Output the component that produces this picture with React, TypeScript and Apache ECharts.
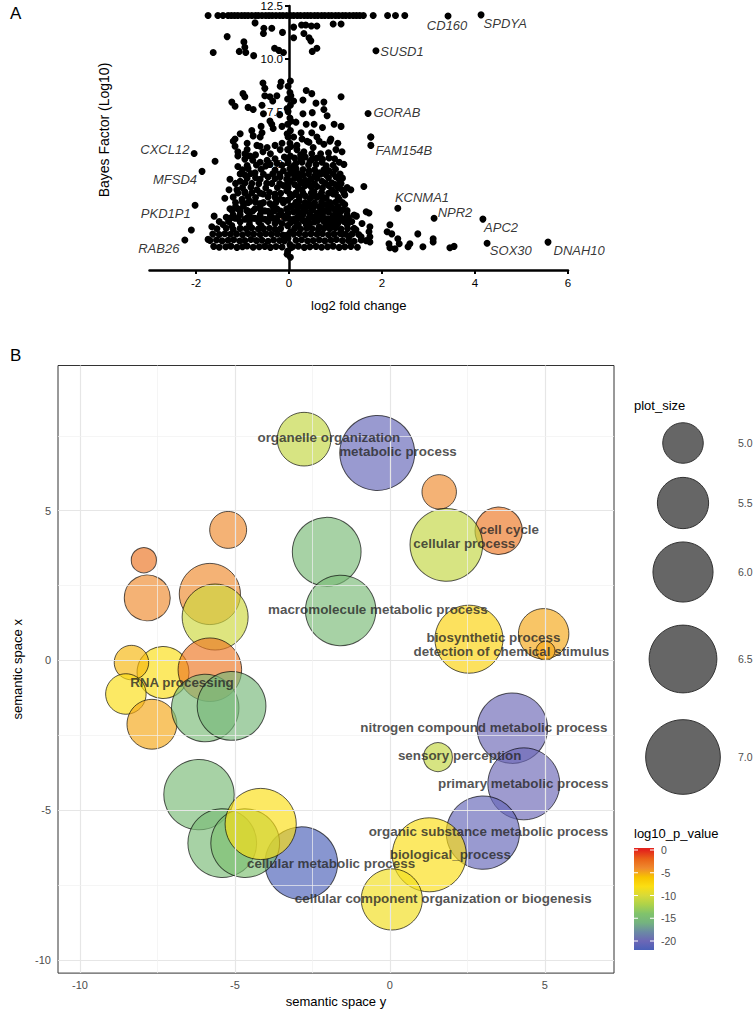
import React, { useEffect, useRef } from 'react';
import * as echarts from 'echarts';

// ================= Panel A : volcano-like plot =================
const CAP_BF = 12.05;
const capFold = [-1.74, -1.53, -1.42, -1.31, -1.24, -1.17, -1.1, -1.02, -0.95, -0.88, -0.8, -0.72, -0.66, -0.58, -0.5, -0.43, -0.36, -0.28, -0.2, -0.13, -0.05, 0.03, 0.1, 0.18, 0.25, 0.33, 0.4, 0.47, 0.55, 0.62, 0.7, 0.77, 0.85, 0.92, 1.0, 1.07, 1.15, 1.22, 1.3, 1.38, 1.45, 1.52, 1.6, 1.81, 2.12, 2.29, 2.49];

const upperGenes: number[][] = [
  [0.1, 11.5], [0.27, 11.6], [0.36, 11.6], [0.48, 11.55], [0.6, 11.55], [0.1, 11.0], [0.32, 11.2], [0.43, 11.0], [0.47, 10.85], [0.6, 10.5], [0.5, 10.35], [0.95, 11.65], [1.12, 11.65],
  [-0.73, 11.7], [-0.54, 11.45], [-0.37, 11.45], [-0.55, 11.2], [-0.14, 11.25], [-1.33, 11.05], [-0.97, 10.8], [-0.95, 10.55], [-1.07, 10.35], [-0.93, 10.3], [-1.63, 10.3], [-0.76, 10.15], [-0.31, 10.5], [-0.22, 10.4], [-0.12, 10.3],
];

const middleGenes: number[][] = [
  [-0.17, 8.9], [-0.56, 8.85], [-0.52, 8.6], [-0.19, 8.7], [-0.99, 8.35], [-0.95, 8.2], [-0.52, 8.25], [-0.41, 8.2], [-0.26, 8.25], [-1.23, 7.95], [-1.16, 7.75], [-0.88, 7.7], [-0.77, 7.6], [-0.58, 7.8], [-0.41, 7.05], [-0.37, 6.9], [-0.34, 6.7], [-1.05, 6.45], [-0.8, 6.6], [-0.77, 6.35], [-0.58, 6.5], [-1.16, 6.2], [-1.2, 6.1], [-0.9, 6.0], [-0.69, 5.9], [-0.47, 5.8], [-0.3, 5.9], [-0.62, 6.3], [-1.16, 5.86], [-1.1, 5.6], [-0.9, 5.7], [-1.1, 5.4], [-0.84, 5.4], [-0.62, 5.86], [-0.56, 5.6], [-0.19, 5.7],
  [0.37, 8.5], [0.49, 8.35], [0.1, 8.0], [0.58, 7.9], [0.75, 7.95], [0.75, 7.6], [0.82, 7.3], [1.12, 8.2], [0.15, 7.0], [0.37, 6.9], [0.54, 6.9], [0.97, 6.9], [1.12, 6.8], [0.26, 6.5], [0.49, 6.5], [0.28, 6.2], [0.6, 6.3], [0.39, 6.1], [0.17, 5.9], [0.52, 5.8], [0.88, 6.1], [1.05, 6.0], [1.76, 6.3], [0.43, 6.05], [0.65, 6.1], [0.9, 6.2], [0.17, 5.7], [0.32, 5.6], [0.49, 5.5], [1.01, 5.7], [1.14, 5.6],
  [-0.15, 6.0], [0.1, 6.3], [0.75, 5.95], [-0.6, 6.8], [-0.15, 6.8], [0.72, 6.75], [-0.55, 7.4], [-0.2, 7.35], [0.3, 7.4], [0.5, 7.45], [-0.35, 8.0], [0.3, 8.05], [-0.95, 5.5], [-0.72, 5.45], [-0.4, 5.5], [0.25, 5.45], [0.68, 5.5], [0.85, 5.55],
];

const lowerGenes: number[][] = [
  [-1.59, 5.15], [-1.27, 4.3], [-1.29, 3.8], [-1.38, 3.4], [-1.27, 2.9], [-1.61, 2.55], [-1.66, 2.05], [-1.74, 1.45], [-2.1, 1.89],
  [-0.47, 5.2], [-0.41, 5.0], [-0.26, 5.05], [-1.1, 4.9], [-0.88, 4.8], [-0.95, 4.5], [-0.73, 4.6], [-0.62, 4.3], [-0.45, 4.4], [-1.05, 4.2], [-0.8, 4.1], [-0.37, 4.1], [-0.19, 4.4], [-1.12, 3.8], [-0.95, 3.7], [-0.69, 3.8], [-0.56, 3.6], [-0.3, 3.6], [-1.01, 3.35], [-0.84, 3.25], [-0.62, 3.15], [-0.41, 3.15], [-0.19, 3.35], [-1.1, 2.9], [-0.9, 2.8], [-0.73, 2.9], [-0.52, 2.8], [-0.26, 2.9], [-1.16, 2.45], [-0.95, 2.4], [-0.73, 2.45], [-0.52, 2.4], [-0.34, 2.45], [-1.42, 2.15], [-1.23, 2.1], [-0.85, 2.15], [-0.6, 2.1],
  [0.28, 5.1], [0.58, 5.0], [0.71, 5.1], [0.86, 5.3], [1.08, 5.1], [1.18, 5.0], [0.15, 4.8], [0.43, 4.7], [0.65, 4.6], [0.86, 4.7], [1.01, 4.4], [1.08, 4.3], [0.71, 4.2], [0.47, 4.3], [0.22, 4.3], [1.61, 3.95], [1.33, 3.8], [1.14, 3.8], [0.92, 3.8], [0.28, 3.8], [0.54, 3.7], [0.8, 3.4], [1.08, 3.35], [0.22, 3.25], [0.43, 3.15], [0.65, 3.0], [0.97, 2.9], [1.14, 2.85], [1.66, 2.76], [1.72, 2.7], [1.08, 2.62], [0.22, 2.62], [0.49, 2.52], [0.8, 2.43], [0.92, 2.38], [1.35, 2.3], [1.57, 2.2], [1.25, 2.15], [0.37, 2.15], [0.65, 2.05],
];

const coreGenes: number[][] = [
  [0.1, 4.55], [0.3, 4.5], [0.55, 4.45], [0.8, 4.5], [0.12, 4.05], [0.35, 4.0], [0.6, 3.95], [0.85, 4.0], [1.0, 4.05], [0.1, 3.55], [0.35, 3.5], [0.6, 3.45], [0.95, 3.6], [1.2, 3.55], [0.1, 3.05], [0.3, 3.0], [0.52, 2.95], [0.8, 3.1], [1.2, 3.1], [0.1, 2.75], [0.35, 2.8], [0.6, 2.7], [0.85, 2.75], [0.1, 2.4], [0.3, 2.35], [0.62, 2.35], [1.1, 2.4], [1.45, 2.55],
  [-0.12, 4.7], [-0.12, 4.0], [-0.12, 3.3], [-0.15, 2.6], [-0.15, 2.2], [-0.3, 2.2], [0.12, 5.3], [0.35, 5.35], [0.6, 5.3], [-0.1, 5.35],
  [0.2, 2.15], [0.45, 2.2], [0.82, 2.15], [0.95, 2.1], [1.05, 2.2], [-0.08, 2.45], [0.18, 2.5], [0.6, 2.55], [0.72, 2.6], [0.85, 2.85], [0.45, 3.4], [0.65, 3.5], [0.35, 4.25], [0.75, 4.75],
  [-1.3, 2.3], [-1.05, 2.28], [-0.85, 2.32], [-0.65, 2.27], [-0.45, 2.3], [-0.25, 2.33], [0.15, 2.28], [0.38, 2.31], [0.55, 2.27], [0.75, 2.3], [0.88, 2.33], [1.0, 2.28], [1.18, 2.3], [1.3, 2.27],
  [-1.2, 2.6], [-1.05, 2.62], [-0.85, 2.58], [-0.62, 2.61], [-0.4, 2.63], [-0.22, 2.59], [0.3, 2.62], [0.45, 2.6], [0.95, 2.58], [1.25, 2.61], [1.4, 2.6],
  [-1.15, 3.0], [-0.98, 3.02], [-0.62, 2.98], [-0.35, 3.01], [0.2, 3.0], [0.42, 3.03], [0.7, 2.98], [0.9, 3.02], [1.05, 3.0],
  [-1.2, 3.45], [-0.88, 3.47], [-0.72, 3.43], [-0.45, 3.46], [-0.3, 3.44], [0.22, 3.45], [0.5, 3.48], [0.75, 3.43], [1.05, 3.46],
  [-1.0, 3.9], [-0.82, 3.92], [-0.5, 3.88], [-0.25, 3.91], [0.2, 3.9], [0.48, 3.93], [0.72, 3.88], [1.05, 3.91], [1.25, 3.9],
  [-0.9, 4.35], [-0.72, 4.37], [-0.3, 4.33], [0.12, 4.36], [0.6, 4.34], [0.85, 4.37], [1.15, 4.35],
  [-1.0, 4.75], [-0.6, 4.77], [-0.3, 4.73], [0.3, 4.76], [0.55, 4.74], [1.0, 4.77],
  [-1.5, 2.3], [-1.35, 2.5], [-0.05, 2.9], [-0.05, 3.75], [-0.05, 4.3], [0.15, 5.05], [0.45, 5.15], [-0.62, 5.1], [-0.78, 5.2],
];

const fillGenes: number[][] = [
  [-1.25, 2.46], [-1.1, 2.44], [-0.9, 2.47], [-0.75, 2.45], [-0.6, 2.43], [-0.42, 2.46], [-0.28, 2.44], [0.22, 2.46], [0.42, 2.44], [0.52, 2.47], [0.7, 2.45], [0.85, 2.43], [1.0, 2.46], [1.15, 2.44], [1.28, 2.47],
  [-1.22, 2.8], [-1.05, 2.78], [-0.9, 2.81], [-0.78, 2.79], [-0.6, 2.82], [-0.45, 2.78], [-0.32, 2.8], [-0.18, 2.79], [0.18, 2.81], [0.3, 2.78], [0.48, 2.8], [0.68, 2.82], [0.78, 2.79], [1.0, 2.8], [1.12, 2.78], [1.25, 2.81],
  [-1.15, 3.2], [-1.0, 3.22], [-0.88, 3.18], [-0.72, 3.21], [-0.55, 3.19], [-0.28, 3.2], [-0.12, 3.18], [0.15, 3.21], [0.35, 3.2], [0.55, 3.18], [0.7, 3.22], [0.88, 3.19], [1.0, 3.21], [1.15, 3.2],
  [-1.1, 3.65], [-0.95, 3.63], [-0.8, 3.66], [-0.62, 3.64], [-0.42, 3.67], [-0.18, 3.63], [0.15, 3.66], [0.3, 3.64], [0.48, 3.65], [0.7, 3.67], [0.85, 3.63], [1.0, 3.66], [1.18, 3.64],
  [-1.15, 4.1], [-0.95, 4.12], [-0.65, 4.08], [-0.48, 4.11], [-0.2, 4.09], [0.25, 4.12], [0.42, 4.1], [0.55, 4.08], [0.78, 4.11], [0.92, 4.13], [1.12, 4.09],
  [-1.05, 4.55], [-0.82, 4.57], [-0.55, 4.53], [-0.35, 4.56], [-0.2, 4.54], [0.2, 4.57], [0.42, 4.55], [0.68, 4.53], [0.95, 4.56], [1.1, 4.54],
  [-0.9, 4.95], [-0.7, 4.97], [-0.5, 4.93], [-0.15, 4.96], [0.1, 4.94], [0.42, 4.97], [0.8, 4.93], [0.95, 4.96],
  [-0.95, 5.25], [-0.3, 5.27], [0.25, 5.23], [0.5, 5.26], [0.72, 5.24], [0.98, 5.27],
];

const baseGenes: number[][] = [
  [-1.62, 1.12], [-1.5, 1.08], [-1.36, 1.1], [-1.25, 1.13], [-1.12, 1.07], [-1.0, 1.1], [-0.9, 1.14], [-0.77, 1.08], [-0.64, 1.1], [-0.52, 1.12], [-0.4, 1.07], [-0.28, 1.11], [-0.15, 1.09], [0.08, 1.1], [0.2, 1.13], [0.33, 1.07], [0.45, 1.1], [0.58, 1.12], [0.7, 1.08], [0.83, 1.1], [0.95, 1.13], [1.08, 1.07], [1.2, 1.1], [1.33, 1.12], [1.47, 1.08],
  [-1.7, 1.4], [-1.56, 1.42], [-1.44, 1.38], [-1.31, 1.41], [-1.19, 1.43], [-1.06, 1.37], [-0.95, 1.4], [-0.82, 1.44], [-0.7, 1.39], [-0.58, 1.41], [-0.45, 1.36], [-0.33, 1.42], [-0.2, 1.4], [-0.1, 1.38], [0.15, 1.41], [0.27, 1.43], [0.4, 1.37], [0.52, 1.4], [0.65, 1.42], [0.77, 1.38], [0.9, 1.41], [1.02, 1.44], [1.15, 1.39], [1.28, 1.4], [1.4, 1.36], [1.55, 1.42], [1.66, 1.39],
  [-1.64, 1.7], [-1.5, 1.68], [-1.38, 1.72], [-1.26, 1.69], [-1.13, 1.71], [-1.0, 1.67], [-0.88, 1.73], [-0.76, 1.7], [-0.62, 1.68], [-0.5, 1.72], [-0.38, 1.69], [-0.25, 1.71], [-0.13, 1.66], [0.1, 1.7], [0.22, 1.73], [0.35, 1.68], [0.47, 1.71], [0.6, 1.69], [0.72, 1.72], [0.85, 1.67], [0.97, 1.7], [1.1, 1.73], [1.22, 1.69], [1.36, 1.71], [1.5, 1.68],
  [-1.55, 1.95], [-1.35, 1.98], [-1.2, 1.93], [-1.05, 1.97], [-0.92, 1.95], [-0.8, 1.99], [-0.66, 1.94], [-0.55, 1.96], [-0.42, 1.98], [-0.3, 1.93], [-0.18, 1.96], [0.12, 1.97], [0.25, 1.94], [0.38, 1.98], [0.5, 1.95], [0.63, 1.93], [0.75, 1.97], [0.88, 1.95], [1.0, 1.99], [1.12, 1.94], [1.26, 1.96], [1.4, 1.98],
];

const axisGenes: number[][] = [
  [0.03, 0.6], [-0.03, 0.9], [0.02, 1.2], [-0.02, 1.5], [0.03, 1.8], [-0.03, 2.1], [0.02, 2.4], [-0.02, 2.7], [0.03, 3.0], [-0.03, 3.3], [0.02, 3.6], [-0.02, 3.9], [0.03, 4.2], [-0.03, 4.5], [0.02, 4.8], [-0.02, 5.1], [0.03, 5.4], [-0.03, 5.7], [0.02, 6.0], [-0.02, 6.3], [0.03, 6.6], [-0.03, 6.9], [0.02, 7.2], [-0.02, 7.5], [0.03, 7.8], [-0.03, 8.1], [0.02, 8.4], [-0.02, 8.7], [0.03, 8.95],
  [-0.04, 0.75], [0.04, 1.05], [-0.04, 1.65], [0.04, 2.25], [-0.04, 2.85], [0.04, 3.45], [-0.04, 4.05], [0.04, 4.65], [-0.04, 5.25], [0.04, 5.85], [-0.04, 6.45], [0.04, 7.05], [-0.04, 7.65], [0.04, 8.25],
];

const tailGenes: number[][] = [
  [2.17, 2.14], [1.74, 2.05], [2.11, 1.81], [2.21, 1.71], [2.34, 1.48], [2.77, 1.71], [3.1, 1.48], [3.1, 1.33], [2.6, 1.24], [2.56, 1.1], [2.88, 1.1], [2.17, 1.05], [2.28, 1.0], [3.46, 1.05], [3.55, 1.12], [1.74, 1.57], [1.74, 1.33], [1.44, 1.9], [1.72, 1.81], [1.14, 1.71], [2.37, 1.24], [2.15, 1.24], [1.29, 1.57], [1.55, 1.57], [1.76, 5.9],
];

const geneNames = ['CD160', 'SPDYA', 'SUSD1', 'GORAB', 'FAM154B', 'CXCL12', 'MFSD4', 'PKD1P1', 'RAB26', 'KCNMA1', 'NPR2', 'APC2', 'SOX30', 'DNAH10'];
const geneFold = [3.42, 4.13, 1.87, 1.7, 1.76, -2.04, -1.87, -2.02, -2.24, 2.34, 3.12, 4.17, 4.26, 5.57];
const geneBF = [12.03, 12.08, 10.38, 7.41, 6.3, 5.52, 4.67, 3.07, 1.42, 2.92, 2.45, 2.41, 1.27, 1.32];
const geneLabelFold = [3.4, 4.65, 2.43, 2.32, 2.47, -2.67, -2.45, -2.65, -2.8, 2.86, 3.57, 4.56, 4.77, 6.24];
const geneLabelBF = [11.56, 11.65, 10.33, 7.45, 5.66, 5.71, 4.29, 2.69, 1.04, 3.44, 2.74, 2.03, 0.9, 0.94];

const foldTicks = [-2, 0, 2, 4, 6];

// ================= Panel B : REVIGO bubble plot =================
const termX = [-2.77, -0.41, 1.59, 3.51, 1.82, -5.22, -2.04, -7.94, -7.83, -5.81, -5.64, -1.59, 2.55, 4.96, -7.32, -8.34, -8.52, -7.68, -5.81, -5.96, -5.11, 3.95, 1.55, 4.32, 3.0, 1.27, 0.06, -2.86, -6.16, -5.41, -4.67, -4.17, 5.02];
const termY = [7.39, 6.93, 5.63, 4.33, 3.86, 4.36, 3.63, 3.35, 2.09, 2.22, 1.45, 1.67, 0.71, 0.89, -0.4, -0.07, -1.12, -2.13, -0.31, -1.59, -1.52, -2.26, -3.23, -4.12, -5.75, -6.49, -7.98, -6.77, -4.48, -6.1, -6.1, -5.46, 0.32];
const termLogP = [-11, -20.5, -4, -3, -11, -4, -15, -2.8, -4, -4, -10.5, -15, -7, -5, -8, -5.5, -8, -5, -3, -15, -15.5, -20, -11, -20, -20.5, -8, -8.5, -22, -15, -15, -14.5, -8, -5];
const termSize = [5.63, 7.02, 4.77, 5.31, 6.85, 4.86, 6.57, 4.49, 5.24, 6.07, 6.38, 6.69, 6.52, 5.46, 5.54, 4.77, 5.0, 5.43, 6.22, 6.48, 6.57, 6.69, 4.59, 6.8, 6.9, 6.95, 6.07, 6.85, 6.69, 6.57, 6.57, 6.74, 4.35];

const labelNames = ['organelle organization', 'metabolic process', 'cell cycle', 'cellular process', 'macromolecule metabolic process', 'biosynthetic process', 'detection of chemical stimulus', 'RNA processing', 'nitrogen compound metabolic process', 'sensory perception', 'primary metabolic process', 'organic substance metabolic process', 'biological_process', 'cellular metabolic process', 'cellular component organization or biogenesis'];
const labelX = [-1.97, 0.26, 3.85, 2.4, -0.39, 3.34, 3.92, -6.71, 3.03, 2.25, 4.3, 3.18, 1.95, -1.9, 1.72];
const labelY = [7.43, 6.97, 4.37, 3.89, 1.7, 0.77, 0.3, -0.74, -2.25, -3.19, -4.1, -5.71, -6.47, -6.77, -7.95];

const semTicks = [-10, -5, 0, 5];
const gridMinorX = [-7.5, -2.5, 2.5];
const gridMinorY = [7.5, 2.5, -2.5, -7.5];

const sizeLegendValues = [5.0, 5.5, 6.0, 6.5, 7.0];
const pLegendTicks = [0, -5, -10, -15, -20];
// colour scale from -22 to 0 in steps of 2
const pColors = ['#4a60b8', '#6c67b6', '#6b8aa4', '#74b37f', '#80c36c', '#add24a', '#d8da38', '#fbde13', '#f8c400', '#ef8a2e', '#ea6418', '#e3241c'];
const P_MIN = -22;
const P_MAX = 0;

const FONT = 'Liberation Sans, Arial, Helvetica, sans-serif';

function sizeToRadius(v: number) {
  return Math.sqrt(Math.max(0, -2050 + 492 * v));
}

function buildOption() {
  const volcanoPoints = [
    ...capFold.map((f) => [f, CAP_BF]),
    ...upperGenes,
    ...middleGenes,
    ...lowerGenes,
    ...coreGenes,
    ...fillGenes,
    ...baseGenes,
    ...axisGenes,
    ...tailGenes,
    ...geneFold.map((f, i) => [f, geneBF[i]]),
  ];

  const geneLabelData = geneNames.map((n, i) => ({ name: n, value: [geneLabelFold[i], geneLabelBF[i]] }));

  const bubbleData = termX.map((x, i) => [x, termY[i], termLogP[i], termSize[i]]);
  const termLabelData = labelNames.map((n, i) => ({ name: n, value: [labelX[i], labelY[i]] }));

  const gridLines: any[] = [
    ...semTicks.map((v) => ({ xAxis: v, lineStyle: { color: '#e6e6e6', width: 1.2, type: 'solid' } })),
    ...semTicks.map((v) => ({ yAxis: v, lineStyle: { color: '#e6e6e6', width: 1.2, type: 'solid' } })),
    ...gridMinorX.map((v) => ({ xAxis: v, lineStyle: { color: '#f1f1f1', width: 0.7, type: 'solid' } })),
    ...gridMinorY.map((v) => ({ yAxis: v, lineStyle: { color: '#f1f1f1', width: 0.7, type: 'solid' } })),
  ];

  const sizeLegendY = [443, 503, 572, 659, 757];
  const graphics: any[] = [
    { type: 'text', x: 10, y: 5, style: { text: 'A', fontSize: 17, fontFamily: FONT, fill: '#000' } },
    { type: 'text', x: 10, y: 347, style: { text: 'B', fontSize: 17, fontFamily: FONT, fill: '#000' } },
    {
      type: 'text', x: 104, y: 130, rotation: Math.PI / 2,
      style: { text: 'Bayes Factor (Log10)', fontSize: 14, fontFamily: FONT, fill: '#000', textAlign: 'center', textVerticalAlign: 'middle', align: 'center', verticalAlign: 'middle' },
    },
    { type: 'text', x: 634, y: 399, style: { text: 'plot_size', fontSize: 13, fontFamily: FONT, fill: '#000' } },
    { type: 'text', x: 634, y: 827, style: { text: 'log10_p_value', fontSize: 13, fontFamily: FONT, fill: '#000' } },
  ];
  sizeLegendValues.forEach((v, i) => {
    graphics.push({ type: 'circle', shape: { cx: 683, cy: sizeLegendY[i], r: sizeToRadius(v) }, style: { fill: '#666666', stroke: '#333333', lineWidth: 1 } });
    graphics.push({ type: 'text', x: 738, y: sizeLegendY[i], style: { text: v.toFixed(1), fontSize: 10.5, fontFamily: FONT, fill: '#4d4d4d', textVerticalAlign: 'middle', verticalAlign: 'middle' } });
  });
  const barTop = 848;
  const barH = 102;
  const zeroY = 850;
  const pxPerUnit = 4.55;
  const stops = pColors.map((c, i) => {
    const v = P_MIN + i * 2;
    const y = zeroY - v * pxPerUnit;
    return { offset: Math.min(1, Math.max(0, (y - barTop) / barH)), color: c };
  }).reverse();
  graphics.push({
    type: 'rect', shape: { x: 634, y: barTop, width: 20, height: barH },
    style: { fill: { type: 'linear', x: 0, y: 0, x2: 0, y2: 1, colorStops: stops } },
  });
  pLegendTicks.forEach((v) => {
    const y = zeroY - v * pxPerUnit;
    graphics.push({ type: 'line', shape: { x1: 634, y1: y, x2: 638, y2: y }, style: { stroke: '#ffffff', lineWidth: 1 } });
    graphics.push({ type: 'line', shape: { x1: 650, y1: y, x2: 654, y2: y }, style: { stroke: '#ffffff', lineWidth: 1 } });
    graphics.push({ type: 'text', x: 661, y, style: { text: String(v), fontSize: 10.5, fontFamily: FONT, fill: '#4d4d4d', textVerticalAlign: 'middle', verticalAlign: 'middle' } });
  });

  return {
    animation: false,
    textStyle: { fontFamily: FONT },
    graphic: graphics,
    grid: [
      { left: 149.5, top: 4, width: 418.5, height: 266 },
      { left: 58, top: 365.5, width: 556, height: 617, show: true, borderColor: '#333333', borderWidth: 1, backgroundColor: '#ffffff' },
    ],
    xAxis: [
      {
        type: 'value', gridIndex: 0, min: -3, max: 6,
        axisLine: { show: true, onZero: false, lineStyle: { color: '#000', width: 2.5 } },
        axisTick: { show: true, customValues: foldTicks, length: 4, lineStyle: { color: '#000', width: 2 } },
        axisLabel: { customValues: foldTicks, fontSize: 11.5, color: '#000', margin: 7 },
        splitLine: { show: false },
        name: 'log2 fold change', nameLocation: 'middle', nameGap: 29,
        nameTextStyle: { fontSize: 13, color: '#000' },
      },
      {
        type: 'value', gridIndex: 1, min: -10.71, max: 7.23,
        axisLine: { show: false },
        axisTick: { show: true, customValues: semTicks, length: 4, lineStyle: { color: '#333' } },
        axisLabel: { customValues: semTicks, fontSize: 11, color: '#4d4d4d', margin: 6 },
        splitLine: { show: false },
        name: 'semantic space y', nameLocation: 'middle', nameGap: 17,
        nameTextStyle: { fontSize: 13, color: '#000' },
      },
    ],
    yAxis: [
      {
        type: 'value', gridIndex: 0, min: 0, max: 12.5, interval: 2.5, position: 'left', offset: -139.5,
        axisLine: { show: true, onZero: false, lineStyle: { color: '#000', width: 2.5 } },
        axisTick: { show: true, length: 4, lineStyle: { color: '#000', width: 2 } },
        axisLabel: { showMinLabel: false, fontSize: 11.5, color: '#000', margin: 6, formatter: (v: number) => v.toFixed(1) },
        splitLine: { show: false },
      },
      {
        type: 'value', gridIndex: 1, min: -10.44, max: 9.85,
        axisLine: { show: false },
        axisTick: { show: true, customValues: semTicks, length: 4, lineStyle: { color: '#333' } },
        axisLabel: { customValues: semTicks, fontSize: 11, color: '#4d4d4d', margin: 7 },
        splitLine: { show: false },
        name: 'semantic space x', nameLocation: 'middle', nameGap: 30,
        nameTextStyle: { fontSize: 13, color: '#000' },
      },
    ],
    visualMap: [
      {
        type: 'continuous', show: false, seriesIndex: 3, dimension: 2,
        min: P_MIN, max: P_MAX, inRange: { color: pColors },
      },
    ],
    series: [
      {
        type: 'scatter', xAxisIndex: 0, yAxisIndex: 0, data: volcanoPoints,
        symbol: 'circle', symbolSize: 7, itemStyle: { color: '#000', opacity: 1 }, silent: true, z: 3,
      },
      {
        type: 'scatter', xAxisIndex: 0, yAxisIndex: 0, data: geneLabelData, clip: false,
        symbolSize: 1, itemStyle: { color: 'rgba(0,0,0,0)' }, silent: true, z: 4,
        label: { show: true, position: 'inside', formatter: '{b}', fontStyle: 'italic', fontSize: 13, color: '#000' },
      },
      {
        type: 'scatter', xAxisIndex: 1, yAxisIndex: 1, data: [[0, 0]], symbolSize: 0, silent: true, z: 1,
        markLine: { silent: true, symbol: ['none', 'none'], label: { show: false }, data: gridLines },
      },
      {
        type: 'scatter', xAxisIndex: 1, yAxisIndex: 1, data: bubbleData, silent: true, z: 2,
        symbol: 'circle',
        symbolSize: (v: number[]) => 2 * sizeToRadius(v[3]),
        itemStyle: { opacity: 0.66, borderColor: '#000', borderWidth: 1 },
      },
      {
        type: 'scatter', xAxisIndex: 1, yAxisIndex: 1, data: termLabelData, clip: false,
        symbolSize: 1, itemStyle: { color: 'rgba(0,0,0,0)' }, silent: true, z: 5,
        label: { show: true, position: 'inside', formatter: '{b}', fontWeight: 'bold', fontSize: 13.4, color: '#262626', lineHeight: 14 },
      },
    ],
  };
}

export default function App() {
  const ref = useRef<HTMLDivElement>(null);
  useEffect(() => {
    if (!ref.current) return;
    const chart = echarts.init(ref.current, undefined, { renderer: 'svg' });
    chart.setOption(buildOption() as any);
    return () => chart.dispose();
  }, []);
  return <div ref={ref} style={{ position: 'absolute', left: 0, top: 0, width: 753, height: 1013 }} />;
}
